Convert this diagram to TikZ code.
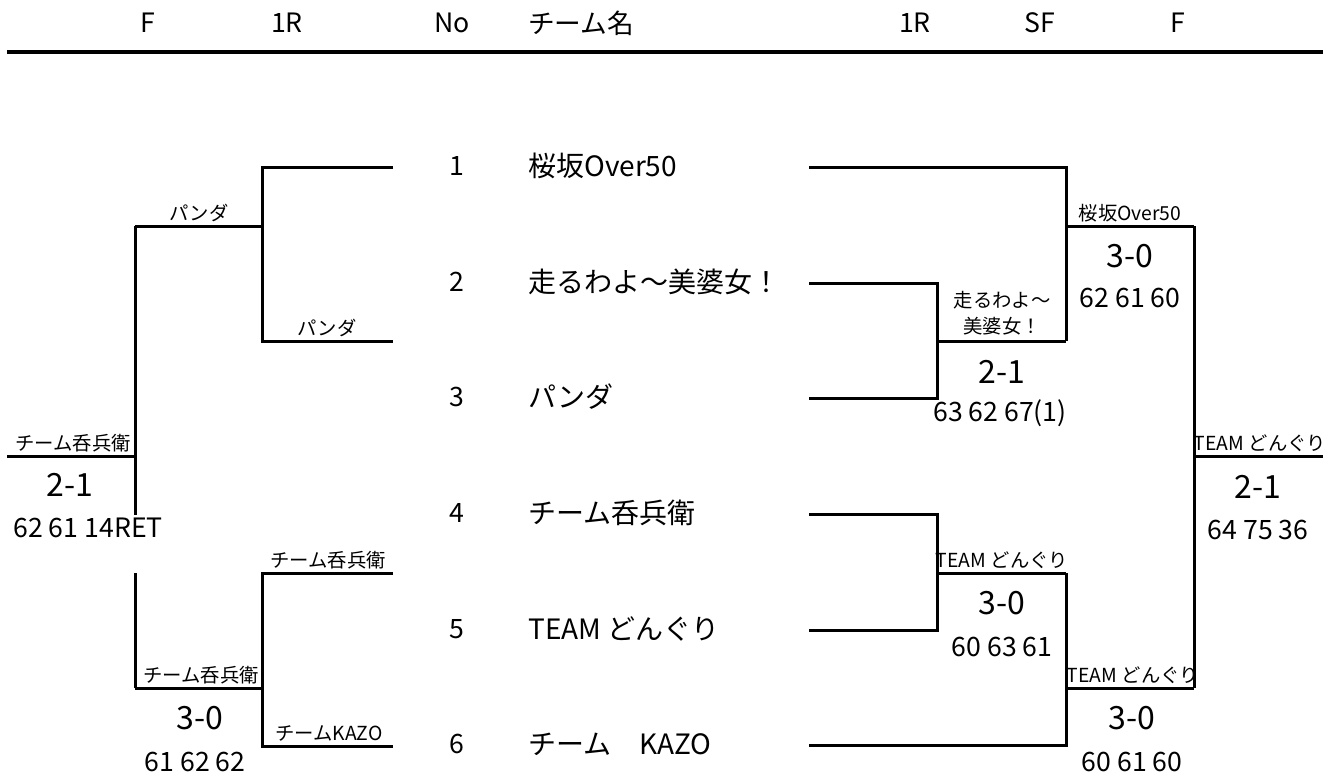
\documentclass[tikz,border=0pt]{standalone}
\usepackage{fontspec}
\setmainfont{Noto Sans CJK JP}
\begin{document}
\begin{tikzpicture}[x=0.75pt, y=-0.75pt,
    line/.style={line width=2.25pt},
    head/.style={font=\fontsize{20}{20}\selectfont, inner sep=0pt},
    teamname/.style={font=\fontsize{21}{21}\selectfont, anchor=west, inner sep=0pt},
    winner/.style={font=\fontsize{14.5}{14.5}\selectfont, anchor=base, inner sep=0pt},
    score/.style={font=\fontsize{24}{24}\selectfont, inner sep=0pt},
    games/.style={font=\fontsize{20}{20}\selectfont, inner sep=0pt}]
    \useasboundingbox (0,0) rectangle (1337,778);

    % --- Cabeçalho ---
    \node[head] (hF)  at (148,23) {F};
    \node[head] (h1R) at (287,23) {1R};
    \node[head] (hNo) at (452,23) {No};
    \node[head, anchor=west] (hTeam) at (528,23) {チーム名};
    \node[head] (h1Rr) at (915,23) {1R};
    \node[head] (hSF)  at (1040,23) {SF};
    \node[head] (hFr)  at (1178,23) {F};
    \draw[line width=3pt] (7,52) -- (1323,52);

    % --- Equipes ---
    \foreach \i/\y/\name in {1/166/桜坂Over50, 2/282/走るわよ〜美婆女！, 3/397/パンダ,
                             4/513/チーム呑兵衛, 5/629/TEAM どんぐり, 6/744/チーム　KAZO} {
        \node[head] (no\i) at (457,\y) {\i};
        \node[teamname] (team\i) at (528,\y) {\name};
    }

    % --- Lado direito: 1R ---
    \draw[line] (809,283) -| (937,398) -- (809,398);
    \draw[line] (937,341) -- (1066,341);
    \node[winner] (w23a) at (1002,307) {走るわよ〜};
    \node[winner] (w23b) at (1002,333) {美婆女！};
    \node[score] (s23) at (1002,372) {2-1};
    \node[games] (g23) at (1000,413) {63 62 67(1)};

    \draw[line] (809,514) -| (937,630) -- (809,630);
    \draw[line] (937,573) -- (1066,573);
    \node[winner] (w45) at (1002,567) {TEAM どんぐり};
    \node[score] (s45) at (1002,603) {3-0};
    \node[games] (g45) at (1002,647) {60 63 61};

    % --- Lado direito: SF ---
    \draw[line] (809,167) -| (1066,341);
    \draw[line] (1066,226) -- (1194,226);
    \node[winner] (wsf1) at (1130,220) {桜坂Over50};
    \node[score] (ssf1) at (1130,256) {3-0};
    \node[games] (gsf1) at (1130,298) {62 61 60};

    \draw[line] (809,745) -| (1066,573);
    \draw[line] (1066,688) -- (1194,688);
    \node[winner] (wsf2) at (1133,682) {TEAM どんぐり};
    \node[score] (ssf2) at (1132,718) {3-0};
    \node[games] (gsf2) at (1132,762) {60 61 60};

    % --- Lado direito: F ---
    \draw[line] (1194,226) -- (1194,688);
    \draw[line] (1194,456) -- (1323,456);
    \node[winner] (wf) at (1260,450) {TEAM どんぐり};
    \node[score] (sf) at (1258,487) {2-1};
    \node[games] (gf) at (1258,530) {64 75 36};

    % --- Lado esquerdo: 1R ---
    \draw[line] (393,167) -| (262,341) -- (393,341);
    \draw[line] (262,226) -- (135,226);
    \node[winner] (lw1) at (199,220) {パンダ};
    \node[winner] (lw3) at (327,335) {パンダ};

    \draw[line] (393,573) -| (262,746) -- (393,746);
    \draw[line] (262,688) -- (135,688);
    \node[winner] (lw4) at (328,567) {チーム呑兵衛};
    \node[winner] (lw6) at (329,740) {チームKAZO};
    \node[winner] (lw46) at (201,682) {チーム呑兵衛};
    \node[score] (ls46) at (200,718) {3-0};
    \node[games] (lg46) at (195,762) {61 62 62};

    % --- Lado esquerdo: F ---
    \draw[line] (135,226) -- (135,515);
    \draw[line] (135,573) -- (135,688);
    \draw[line] (135,456) -- (7,456);
    \node[winner] (lwf) at (73,450) {チーム呑兵衛};
    \node[score] (lsf) at (70,485) {2-1};
    \node[games] (lgf) at (88,528) {62 61 14RET};
\end{tikzpicture}
\end{document}
